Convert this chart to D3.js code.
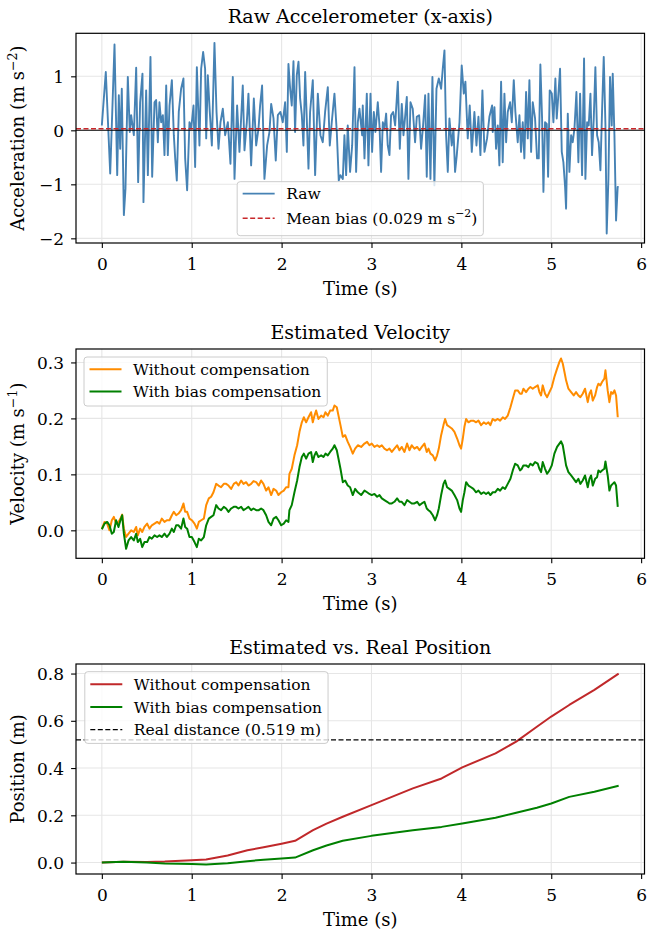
<!DOCTYPE html>
<html><head><meta charset="utf-8">
<script src="https://cdn.jsdelivr.net/npm/d3@7"></script>
<style>body{margin:0;background:#fff}</style>
</head><body>
<svg id="c" width="647" height="932" xmlns="http://www.w3.org/2000/svg"></svg>
<script>
// ---------- DATA ----------
const accelTime = [
0.000,0.044,0.093,0.141,0.171,0.189,0.204,0.222,0.245,0.263,0.289,0.311,0.326,0.356,0.382,0.404,0.426,0.452,0.463,0.493,
0.512,0.541,0.560,0.586,0.604,0.623,0.641,0.660,0.679,0.697,0.716,0.734,0.753,0.779,0.801,0.816,0.834,0.856,0.882,0.908,
0.927,0.949,0.975,0.994,1.020,1.038,1.057,1.086,1.105,1.127,1.149,1.161,1.179,1.201,1.224,1.253,1.276,1.298,1.320,1.346,
1.372,1.402,1.431,1.457,1.476,1.505,1.531,1.568,1.587,1.613,1.631,1.661,1.691,1.717,1.743,1.761,1.783,1.809,1.839,1.865,
1.884,1.910,1.935,1.958,1.987,2.013,2.039,2.058,2.076,2.095,2.113,2.132,2.150,2.169,2.188,2.206,2.225,2.243,2.262,2.280,
2.299,2.317,2.347,2.373,2.403,2.432,2.458,2.484,2.514,2.536,2.558,2.588,2.614,2.636,2.655,2.681,2.699,2.718,2.736,2.762,
2.785,2.811,2.829,2.848,2.866,2.896,2.903,2.922,2.948,2.966,2.989,3.007,3.026,3.044,3.070,3.089,3.107,3.126,3.144,3.163,
3.181,3.200,3.218,3.241,3.263,3.293,3.315,3.337,3.356,3.374,3.393,3.411,3.434,3.459,3.485,3.504,3.530,3.552,3.574,3.597,
3.615,3.634,3.656,3.678,3.700,3.723,3.749,3.775,3.793,3.812,3.830,3.849,3.867,3.893,3.912,3.930,3.949,3.979,4.004,4.027,
4.045,4.071,4.093,4.116,4.145,4.168,4.190,4.212,4.234,4.257,4.286,4.312,4.342,4.349,4.368,4.386,4.405,4.423,4.442,4.460,
4.479,4.498,4.516,4.542,4.561,4.583,4.601,4.627,4.646,4.664,4.683,4.701,4.720,4.739,4.757,4.776,4.794,4.820,4.842,4.861,
4.879,4.898,4.913,4.931,4.950,4.965,4.983,5.006,5.024,5.046,5.061,5.080,5.098,5.117,5.135,5.154,5.165,5.184,5.202,5.221,
5.239,5.258,5.280,5.302,5.321,5.343,5.365,5.380,5.399,5.417,5.436,5.454,5.473,5.491,5.510,5.528,5.547,5.565,5.584,5.603,
5.617,5.636,5.654,5.673,5.684,5.703,5.721,5.739,5.750];
const accelRaw = [
0.09,1.08,-0.80,1.59,-0.83,0.65,-0.34,0.77,-1.57,-1.08,0.99,-0.03,0.28,-0.09,1.16,-0.96,0.52,1.05,-1.33,0.74,
-0.83,1.36,-0.86,0.52,0.56,-0.22,0.52,0.15,0.28,-0.46,0.83,-0.46,0.46,0.93,-0.09,-0.52,-0.93,0.34,0.77,0.96,
-0.52,-1.11,0.15,0.03,0.46,-0.68,1.17,-0.28,1.14,1.45,1.14,-0.15,1.02,0.34,-0.28,1.62,0.34,-0.34,0.15,0.40,
-0.09,0.15,-0.62,0.99,-0.90,0.46,-0.40,0.83,-0.37,0.15,0.68,-0.65,0.59,-0.28,0.03,0.46,0.83,-0.90,-0.28,-0.03,
0.49,0.22,-0.56,0.28,0.34,0.15,0.52,-0.40,1.23,0.77,0.46,1.28,-0.03,1.02,1.27,0.59,0.28,-0.28,1.08,0.22,
-0.71,0.34,0.93,-0.83,0.68,-0.09,-0.22,0.34,0.80,-0.28,0.15,0.68,-0.03,-0.93,-0.83,-0.90,-0.09,-0.83,0.09,-0.77,
-0.28,1.17,-0.77,0.15,0.40,-0.09,0.46,-0.52,0.68,-0.65,0.68,-0.40,0.34,-0.03,0.52,0.09,-0.77,0.15,0.03,0.31,
-0.28,-0.46,0.28,0.34,0.09,0.90,-0.34,0.49,-0.09,0.25,0.62,-0.90,0.52,0.40,-0.22,0.25,0.28,-0.34,0.09,0.65,
-0.86,0.68,-0.90,0.99,-1.02,0.77,0.96,0.77,1.14,1.48,-0.09,-0.77,0.22,-0.28,0.03,-0.77,-0.46,0.15,1.20,0.68,
0.90,-0.15,0.46,-0.40,0.34,-0.28,0.25,-0.46,0.74,-0.40,-0.15,0.25,0.46,-0.03,0.43,-0.34,0.09,-0.65,0.90,-0.59,
0.68,-0.22,0.34,0.52,0.15,0.93,0.34,-0.22,0.28,-0.40,0.15,-0.52,0.71,-0.15,0.93,-0.40,0.52,0.22,-0.52,-0.52,
1.22,0.22,-1.14,0.15,0.12,-0.86,0.74,0.68,0.15,0.96,0.22,0.68,1.14,-0.40,-0.59,-1.05,-1.45,0.31,-0.77,-0.09,
-0.22,0.03,0.71,-0.59,0.68,-0.83,1.33,-0.90,0.15,0.09,0.68,-0.46,0.22,1.17,-0.09,-0.22,-0.74,0.34,1.36,0.09,
-1.91,-0.90,0.99,0.09,1.05,-0.09,-1.67,-1.05,-1.05];
const meanBias = 0.029;

const velTime = [
0.000,0.030,0.059,0.085,0.111,0.133,0.159,0.185,0.207,0.226,
0.245,0.270,0.297,0.326,0.356,0.382,0.400,0.426,0.449,0.474,
0.504,0.530,0.556,0.586,0.615,0.641,0.667,0.697,0.723,0.753,
0.779,0.801,0.827,0.853,0.882,0.908,0.927,0.949,0.975,1.001,
1.031,1.057,1.079,1.105,1.135,1.161,1.190,1.216,1.242,1.272,
1.298,1.327,1.357,1.383,1.409,1.439,1.468,1.494,1.520,1.550,
1.576,1.605,1.631,1.661,1.687,1.717,1.746,1.772,1.798,1.828,
1.854,1.884,1.910,1.939,1.965,1.995,2.024,2.050,2.076,2.087,
2.113,2.143,2.173,2.199,2.225,2.247,2.273,2.299,2.328,2.347,
2.366,2.384,2.410,2.440,2.466,2.488,2.514,2.540,2.569,2.588,
2.614,2.633,2.655,2.681,2.707,2.736,2.762,2.792,2.818,2.848,
2.885,2.922,2.951,2.977,3.003,3.033,3.063,3.089,3.115,3.144,
3.174,3.200,3.226,3.255,3.285,3.311,3.337,3.367,3.396,3.422,
3.448,3.478,3.508,3.534,3.560,3.589,3.615,3.634,3.656,3.682,
3.708,3.730,3.749,3.775,3.801,3.819,3.841,3.867,3.893,3.923,
3.953,3.979,3.997,4.016,4.034,4.053,4.079,4.108,4.134,4.164,
4.190,4.220,4.249,4.275,4.301,4.323,4.349,4.375,4.405,4.431,
4.461,4.486,4.516,4.546,4.572,4.598,4.627,4.653,4.672,4.690,
4.720,4.746,4.768,4.794,4.820,4.850,4.868,4.887,4.905,4.931,
4.954,4.980,5.006,5.035,5.065,5.091,5.109,5.128,5.147,5.165,
5.191,5.221,5.250,5.276,5.302,5.324,5.350,5.376,5.406,5.425,
5.443,5.462,5.488,5.510,5.525,5.547,5.565,5.591,5.603,5.628,
5.647,5.666,5.684,5.703,5.721,5.740];
const velRaw = [
0.002,0.015,0.012,0.000,0.018,0.024,0.012,0.015,0.021,0.028,
0.003,-0.012,-0.006,0.000,-0.003,0.006,-0.009,0.003,-0.003,0.006,
0.012,0.003,0.009,0.012,0.015,0.012,0.021,0.015,0.018,0.018,
0.027,0.033,0.027,0.030,0.036,0.048,0.033,0.033,0.021,0.018,
0.012,0.003,0.015,0.018,0.021,0.045,0.057,0.060,0.068,0.083,
0.080,0.077,0.083,0.083,0.080,0.074,0.083,0.086,0.080,0.089,
0.083,0.086,0.080,0.083,0.088,0.086,0.080,0.089,0.083,0.071,
0.077,0.063,0.074,0.071,0.063,0.068,0.071,0.077,0.077,0.101,
0.110,0.134,0.152,0.176,0.193,0.202,0.193,0.202,0.211,0.193,
0.205,0.214,0.199,0.205,0.202,0.211,0.205,0.214,0.214,0.223,
0.220,0.205,0.188,0.167,0.170,0.158,0.149,0.137,0.146,0.152,
0.149,0.155,0.158,0.152,0.155,0.149,0.152,0.149,0.152,0.146,
0.143,0.146,0.140,0.146,0.152,0.143,0.149,0.140,0.155,0.143,
0.152,0.146,0.149,0.143,0.149,0.155,0.140,0.146,0.137,0.134,
0.125,0.134,0.146,0.170,0.188,0.199,0.188,0.185,0.182,0.176,
0.164,0.152,0.146,0.164,0.185,0.199,0.193,0.196,0.196,0.193,
0.196,0.188,0.193,0.190,0.193,0.188,0.199,0.196,0.199,0.196,
0.202,0.199,0.205,0.220,0.235,0.250,0.250,0.244,0.244,0.253,
0.247,0.253,0.256,0.253,0.256,0.259,0.247,0.241,0.259,0.244,
0.238,0.247,0.256,0.274,0.289,0.301,0.307,0.298,0.283,0.268,
0.253,0.247,0.241,0.247,0.241,0.238,0.244,0.253,0.229,0.244,
0.250,0.232,0.241,0.256,0.262,0.259,0.265,0.271,0.286,0.250,
0.229,0.247,0.244,0.250,0.241,0.202];
const velComp = [
0.002,0.012,0.015,0.009,-0.006,-0.003,0.018,0.006,0.018,0.027,
-0.006,-0.033,-0.018,-0.012,-0.018,-0.006,-0.021,-0.015,-0.030,-0.021,
-0.021,-0.012,-0.015,-0.009,-0.012,-0.009,-0.012,-0.006,-0.012,-0.006,
0.003,-0.003,0.009,0.009,0.003,0.021,0.006,0.003,-0.012,-0.012,
-0.021,-0.030,-0.015,-0.018,-0.012,0.009,0.021,0.024,0.027,0.045,
0.039,0.036,0.042,0.039,0.033,0.039,0.042,0.042,0.039,0.042,
0.036,0.039,0.042,0.036,0.039,0.036,0.036,0.039,0.036,0.027,
0.015,0.009,0.021,0.024,0.018,0.009,0.012,0.018,0.015,0.036,
0.045,0.068,0.089,0.113,0.131,0.137,0.128,0.137,0.140,0.122,
0.134,0.140,0.131,0.134,0.131,0.137,0.134,0.140,0.146,0.152,
0.143,0.128,0.110,0.086,0.089,0.080,0.077,0.063,0.074,0.068,
0.063,0.071,0.068,0.065,0.063,0.065,0.060,0.063,0.057,0.054,
0.051,0.048,0.048,0.051,0.057,0.051,0.051,0.045,0.054,0.051,
0.048,0.048,0.051,0.045,0.048,0.051,0.039,0.036,0.033,0.027,
0.018,0.027,0.039,0.063,0.083,0.089,0.077,0.074,0.071,0.063,
0.054,0.039,0.033,0.054,0.068,0.086,0.080,0.077,0.074,0.068,
0.071,0.065,0.068,0.065,0.068,0.063,0.068,0.068,0.074,0.071,
0.077,0.074,0.083,0.092,0.107,0.119,0.116,0.107,0.110,0.116,
0.116,0.113,0.119,0.116,0.122,0.119,0.110,0.104,0.122,0.110,
0.101,0.107,0.116,0.137,0.149,0.155,0.159,0.152,0.134,0.116,
0.104,0.098,0.092,0.086,0.092,0.083,0.089,0.098,0.077,0.092,
0.098,0.080,0.092,0.095,0.107,0.104,0.107,0.110,0.123,0.098,
0.071,0.080,0.083,0.086,0.080,0.042];

const posTime = [0,0.24,0.5,0.7,1.0,1.16,1.4,1.62,1.8,2.0,2.15,2.35,2.5,2.68,3.0,3.46,3.78,4.01,4.38,4.61,4.84,5.0,5.2,5.48,5.75];
const posRaw  = [0,0.003,0.002,0.004,0.010,0.013,0.030,0.052,0.065,0.080,0.092,0.137,0.165,0.194,0.243,0.314,0.356,0.403,0.462,0.512,0.575,0.618,0.667,0.731,0.800];
const posComp = [0,0.003,0.000,-0.004,-0.006,-0.008,-0.003,0.006,0.012,0.017,0.021,0.052,0.072,0.092,0.113,0.137,0.151,0.165,0.190,0.211,0.232,0.250,0.278,0.300,0.325];
const realDistance = 0.519;

const xTicks = [0,1,2,3,4,5,6];
const accelTicks = [-2,-1,0,1];
const velTicks = [0.0,0.1,0.2,0.3];
const posTicks = [0.0,0.2,0.4,0.6,0.8];

// ---------- STYLE / LAYOUT ----------
const FONT = "'DejaVu Serif', serif";
const C = {raw:"#4682b4", bias:"#c8282b", noComp:"#ff8c00", comp:"#008000", posNo:"#c0282a", grid:"#e6e6e6"};
const L = 76, R = 644.5;
const LEG_FS = 15.5;
const svg = d3.select("#c");
svg.append("rect").attr("width",647).attr("height",932).attr("fill","#fff");

function padExt(ext){ const d=(ext[1]-ext[0])*0.05; return [ext[0]-d, ext[1]+d]; }
const x = d3.scaleLinear().domain(padExt(d3.extent(accelTime))).range([L,R]);

function addParts(t, parts){
  parts.forEach(p=>{
    if(p.sup){
      t.append("tspan").attr("dy",-7).attr("font-size","0.7em").text(p.s);
    } else if(p.after){
      t.append("tspan").attr("dy",7).text(p.s);
    } else t.append("tspan").text(p.s);
  });
}

function panel(o){
  const g = svg.append("g");
  const y = d3.scaleLinear().domain(padExt(o.yExt)).range([o.bottom,o.top]);
  // grid
  g.selectAll(".gx").data(xTicks.filter(v=>x(v)>=L&&x(v)<=R)).join("line")
    .attr("x1",d=>x(d)).attr("x2",d=>x(d)).attr("y1",o.top).attr("y2",o.bottom)
    .attr("stroke",C.grid).attr("stroke-width",1.1);
  g.selectAll(".gy").data(o.yTicks).join("line")
    .attr("x1",L).attr("x2",R).attr("y1",d=>y(d)).attr("y2",d=>y(d))
    .attr("stroke",C.grid).attr("stroke-width",1.1);
  // series
  o.series.forEach(s=>{
    const line = d3.line().x((d,i)=>x(s.t[i])).y(d=>y(d));
    g.append("path").datum(s.v).attr("d",line).attr("fill","none")
      .attr("stroke",s.color).attr("stroke-width",s.w).attr("stroke-linejoin","round");
  });
  // hlines
  (o.hlines||[]).forEach(h=>{
    g.append("line").attr("x1",L).attr("x2",R).attr("y1",y(h.v)).attr("y2",y(h.v))
      .attr("stroke",h.color).attr("stroke-width",h.w).attr("stroke-dasharray",h.dash||null);
  });
  // axes
  const xa = g.append("g").attr("transform",`translate(0,${o.bottom})`)
    .call(d3.axisBottom(x).tickValues(xTicks).tickFormat(d3.format("d")).tickSize(4.9).tickSizeOuter(0));
  const ya = g.append("g").attr("transform",`translate(${L},0)`)
    .call(d3.axisLeft(y).tickValues(o.yTicks).tickFormat(o.fmt).tickSize(4.9).tickSizeOuter(0));
  [xa,ya].forEach(a=>{
    a.select(".domain").remove();
    a.selectAll(".tick line").attr("stroke","#000").attr("stroke-width",1.1);
    a.selectAll("text").attr("font-family",FONT).attr("font-size",17).attr("fill","#000");
  });
  xa.selectAll("text").attr("y",27).attr("dy",0);
  ya.selectAll("text").attr("x",-12).attr("dy","0.36em");
  // frame
  g.append("rect").attr("x",L).attr("y",o.top).attr("width",R-L).attr("height",o.bottom-o.top)
    .attr("fill","none").attr("stroke","#000").attr("stroke-width",1.2);
  // title
  g.append("text").attr("x",(L+R)/2).attr("y",o.top-10.5).attr("text-anchor","middle")
    .attr("font-family",FONT).attr("font-size",19).text(o.title);
  // x label
  g.append("text").attr("x",(L+R)/2).attr("y",o.bottom+52).attr("text-anchor","middle")
    .attr("font-family",FONT).attr("font-size",18).text("Time (s)");
  // y label
  const yl = g.append("text").attr("transform",`translate(23.5,${(o.top+o.bottom)/2}) rotate(-90)`)
    .attr("text-anchor","middle").attr("font-family",FONT).attr("font-size",18);
  addParts(yl, o.ylabel);
  // legend
  const lo = o.legend;
  const lg = g.append("g");
  const box = lg.append("rect");
  const texts = lo.entries.map(e=>{
    const t = lg.append("text").attr("font-family",FONT).attr("font-size",LEG_FS);
    addParts(t, e.parts); return t;
  });
  const tw = d3.max(texts, t=>t.node().getComputedTextLength());
  const w = 5.5+32+11.5+tw+6;
  const h = lo.firstBase + lo.pitch*(lo.entries.length-1) + lo.lastPad;
  const left = lo.cx!=null ? lo.cx - w/2 : lo.left;
  const top = lo.top!=null ? lo.top : lo.bottom - h;
  box.attr("x",left).attr("y",top).attr("width",w).attr("height",h).attr("rx",3)
    .attr("fill","#fff").attr("fill-opacity",0.8).attr("stroke","#cccccc").attr("stroke-width",1);
  texts.forEach((t,i)=>{
    const by = top + lo.firstBase + i*lo.pitch;
    t.attr("x",left+49).attr("y",by);
    const e = lo.entries[i];
    lg.append("line").attr("x1",left+5.5).attr("x2",left+37.5).attr("y1",by-5.7).attr("y2",by-5.7)
      .attr("stroke",e.color).attr("stroke-width",e.w).attr("stroke-dasharray",e.dash||null);
  });
}

panel({
  top:33.3, bottom:243, yExt:d3.extent(accelRaw), yTicks:accelTicks, fmt:d3.format("d"),
  title:"Raw Accelerometer (x-axis)",
  ylabel:[{s:"Acceleration (m s"},{s:"−2",sup:true},{s:")",after:true}],
  series:[{t:accelTime, v:accelRaw, color:C.raw, w:1.9}],
  hlines:[{v:0,color:"#000",w:1.1},{v:meanBias,color:C.bias,w:1.5,dash:"5,2.5"}],
  legend:{cx:(L+R)/2, bottom:235.7, firstBase:17.6, pitch:24.7, lastPad:11.7, entries:[
    {parts:[{s:"Raw"}], color:C.raw, w:1.9},
    {parts:[{s:`Mean bias (${meanBias.toFixed(3)} m s`},{s:"−2",sup:true},{s:")",after:true}], color:C.bias, w:1.5, dash:"5,2.5"}
  ]}
});

panel({
  top:349, bottom:558.3, yExt:d3.extent(velRaw.concat(velComp)), yTicks:velTicks, fmt:d3.format(".1f"),
  title:"Estimated Velocity",
  ylabel:[{s:"Velocity (m s"},{s:"−1",sup:true},{s:")",after:true}],
  series:[{t:velTime, v:velRaw, color:C.noComp, w:2},{t:velTime, v:velComp, color:C.comp, w:2}],
  legend:{left:84, top:357, firstBase:18, pitch:22.3, lastPad:8.7, entries:[
    {parts:[{s:"Without compensation"}], color:C.noComp, w:2},
    {parts:[{s:"With bias compensation"}], color:C.comp, w:2}
  ]}
});

panel({
  top:664, bottom:874, yExt:d3.extent(posRaw.concat(posComp)), yTicks:posTicks, fmt:d3.format(".1f"),
  title:"Estimated vs. Real Position",
  ylabel:[{s:"Position (m)"}],
  series:[{t:posTime, v:posRaw, color:C.posNo, w:2},{t:posTime, v:posComp, color:C.comp, w:2}],
  hlines:[{v:realDistance,color:"#000",w:1.3,dash:"5,2.5"}],
  legend:{left:84.8, top:671.7, firstBase:18.3, pitch:22.7, lastPad:8, entries:[
    {parts:[{s:"Without compensation"}], color:C.posNo, w:2},
    {parts:[{s:"With bias compensation"}], color:C.comp, w:2},
    {parts:[{s:`Real distance (${realDistance.toFixed(3)} m)`}], color:"#000", w:1.3, dash:"5,2.5"}
  ]}
});
</script>
</body></html>
